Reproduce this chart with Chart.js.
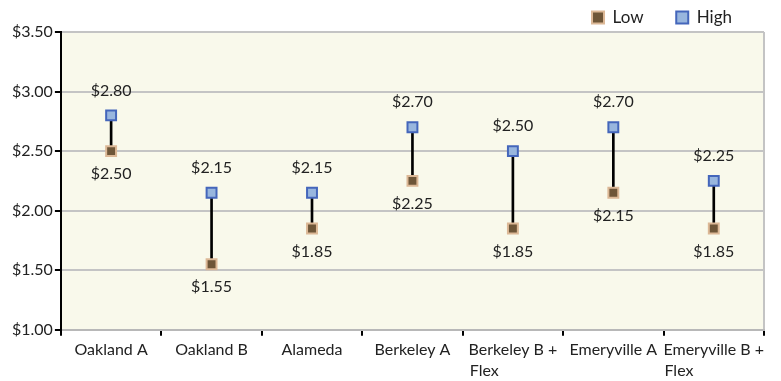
<!DOCTYPE html>
<html>
<head>
<meta charset="utf-8">
<script src="https://cdn.jsdelivr.net/npm/chart.js@4.4.1/dist/chart.umd.min.js"></script>
<style>
    html, body { margin: 0; padding: 0; background: #fff; }
    #wrap { width: 781px; height: 381px; }
</style>
</head>
<body>
<div id="wrap"><canvas id="chart"></canvas></div>
<script>
// Данные графика
const categories = ['Oakland A', 'Oakland B', 'Alameda', 'Berkeley A',
    ['Berkeley B +', 'Flex' + ' '.repeat(14)], 'Emeryville A', ['Emeryville B +', 'Flex' + ' '.repeat(17)]];
const lowValues = [2.50, 1.55, 1.85, 2.25, 1.85, 2.15, 1.85];
const highValues = [2.80, 2.15, 2.15, 2.70, 2.50, 2.70, 2.25];
const yTicks = [1.00, 1.50, 2.00, 2.50, 3.00, 3.50];

const FONT = 'Lato, "Open Sans", sans-serif';
const money = v => '$' + Number(v).toFixed(2);

// Фон области графика и рамка справа
const areaPlugin = {
    id: 'areaBg',
    afterLayout(chart) {
        // легенда в оригинале чуть левее правого края и ниже
        chart.legend.right -= 29;
        chart.legend.top += 4;
    },
    beforeDraw(chart) {
        const { ctx, chartArea: a } = chart;
        ctx.save();
        ctx.fillStyle = '#f9f9eb';
        ctx.fillRect(a.left, a.top, a.right - a.left, a.bottom - a.top);
        ctx.strokeStyle = '#c4c4c4';
        ctx.lineWidth = 2;
        ctx.beginPath();
        ctx.moveTo(a.right, a.top);
        ctx.lineTo(a.right, a.bottom);
        ctx.stroke();
        ctx.restore();
    }
};

// Подписи значений: над High и под Low
const valueLabels = {
    id: 'valueLabels',
    afterDatasetsDraw(chart) {
        const { ctx } = chart;
        ctx.save();
        ctx.font = '16px ' + FONT;
        ctx.fillStyle = '#222';
        ctx.textAlign = 'center';
        ctx.textBaseline = 'middle';
        chart.getDatasetMeta(0).data.forEach((p, i) => {
            ctx.fillText(money(lowValues[i]), p.x, p.y + 23);
        });
        chart.getDatasetMeta(1).data.forEach((p, i) => {
            ctx.fillText(money(highValues[i]), p.x, p.y - 25);
        });
        ctx.restore();
    }
};

new Chart(document.getElementById('chart'), {
    data: {
        labels: categories,
        datasets: [
            {
                type: 'line',
                label: 'Low',
                data: lowValues,
                showLine: false,
                pointStyle: 'rect',
                pointRadius: 7,
                pointHoverRadius: 7,
                backgroundColor: '#6e5638',
                borderColor: '#dcb896',
                borderWidth: 2,
                order: 1
            },
            {
                type: 'line',
                label: 'High',
                data: highValues,
                showLine: false,
                pointStyle: 'rect',
                pointRadius: 7,
                pointHoverRadius: 7,
                backgroundColor: '#98b6de',
                borderColor: '#4466bb',
                borderWidth: 2,
                order: 1
            },
            {
                type: 'bar',
                label: 'range',
                data: lowValues.map((v, i) => [v, highValues[i]]),
                backgroundColor: '#000',
                barThickness: 2,
                order: 3
            }
        ]
    },
    options: {
        responsive: true,
        maintainAspectRatio: false,
        animation: false,
        layout: { padding: { top: 2, right: 17, left: 10, bottom: -4 } },
        plugins: {
            legend: {
                position: 'top',
                align: 'end',
                labels: {
                    usePointStyle: true,
                    pointStyle: 'rect',
                    boxWidth: 12,
                    boxHeight: 12,
                    padding: 3,
                    color: '#222',
                    font: { family: FONT, size: 17 },
                    // только Low и High, с отступом между ними
                    generateLabels: chart => Chart.defaults.plugins.legend.labels.generateLabels(chart)
                        .filter(item => item.datasetIndex < 2)
                        .map((item, k) => k === 0 ? { ...item, text: item.text + '\u2003\u2002\u2002' } : item)
                }
            },
            tooltip: { enabled: false }
        },
        scales: {
            x: {
                offset: true,
                grid: {
                    offset: true,
                    drawOnChartArea: false,
                    tickColor: '#000',
                    tickLength: 6,
                    lineWidth: 2
                },
                border: { color: '#b8b8b8', width: 2 },
                ticks: {
                    color: '#222',
                    maxRotation: 0,
                    autoSkip: false,
                    padding: 3,
                    font: { family: FONT, size: 16, lineHeight: 1.35 }
                }
            },
            y: {
                min: 1,
                max: 3.5,
                afterBuildTicks: axis => { axis.ticks = yTicks.map(v => ({ value: v })); },
                grid: {
                    color: '#c4c4c4',
                    lineWidth: 2,
                    tickColor: '#000',
                    tickLength: 6
                },
                border: { color: '#000', width: 2 },
                ticks: {
                    color: '#222',
                    padding: 2,
                    callback: v => money(v),
                    font: { family: FONT, size: 16 }
                }
            }
        }
    },
    plugins: [areaPlugin, valueLabels]
});
</script>
</body>
</html>
